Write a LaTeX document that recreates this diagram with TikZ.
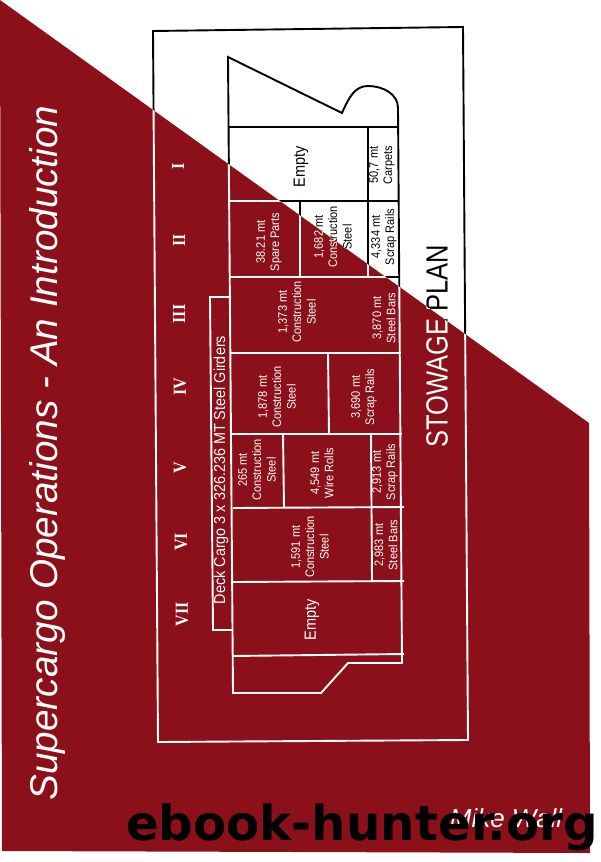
\documentclass[tikz,border=0pt]{standalone}
\usepackage{fontspec}
\setmainfont{Liberation Sans}
\newfontfamily\numfont{Liberation Serif}
\newfontfamily\markfont{DejaVu Sans}
\usepackage[svgnames,x11names]{xcolor}
\usetikzlibrary{positioning}
\definecolor{Cover}{HTML}{8C101A}

% one pass of the plan, in the ink given
\newcommand{\stowage}[1]{
	\begin{scope}[#1,every node/.append style={text=#1},every path/.append style={draw=#1}]
	\draw[hull] (153,31) -- (463,27) -- (468,740) -- (158,742) -- cycle;
	\draw[hull] (228,57) -- (342,113) .. controls (349,97) and (355,86) .. (368,86) .. controls (383,86) and (398,94) .. (398,108) -- (402,663) -- (348,663) -- (321,693) -- (233,693) -- cycle;
	\draw[hull] (229,127) -- (398,127);
	\draw[hull] (229,201) -- (399,201);
	\draw[hull] (230,277) -- (400,277);
	\draw[hull] (231,353) -- (401,353);
	\draw[hull] (232,434) -- (402,434);
	\draw[hull] (233,508) -- (404,507);
	\draw[hull] (232,582) -- (404,581);
	\draw[hull] (232,656) -- (404,654);
	\draw[hull] (368,127) -- (368,277);
	\draw[hull] (300,201) -- (300,277);
	\draw[hull] (328,353) -- (329,434);
	\draw[hull] (283,434) -- (284,508);
	\draw[hull] (371,434) -- (372,581);
	\draw[hull] (231,297) -- (210,297) -- (213,630) -- (232,630);
	\node[numeral] (rI) at (178,166) {I};
	\node[numeral] (rII) at (179,240) {II};
	\node[numeral] (rIII) at (179,314) {III};
	\node[numeral] (rIV) at (180,387) {IV};
	\node[numeral] (rV) at (180,468) {V};
	\node[numeral] (rVI) at (181,542) {VI};
	\node[numeral] (rVII) at (182,614) {VII};
	\node[cargo,font=\fontsize{14.5}{15}\selectfont] (e1) at (301,167) {Empty};
	\node[cargo] (c1) at (382,165) {50,7 mt\\Carpets};
	\node[cargo] (c2) at (269,242) {38.21 mt\\Spare Parts};
	\node[cargo] (c3) at (333,237) {1,682 mt\\Construction\\Steel};
	\node[cargo] (c4) at (384,237) {4,334 mt\\Scrap Rails};
	\node[cargo] (c5) at (297,312) {1,373 mt\\Construction\\Steel};
	\node[cargo] (c6) at (384,318) {3,870 mt\\Steel Bars};
	\node[cargo] (c7) at (277,397) {1,878 mt\\Construction\\Steel};
	\node[cargo] (c8) at (364,397) {3,690 mt\\Scrap Rails};
	\node[cargo] (c9) at (257,470) {265 mt\\Construction\\Steel};
	\node[cargo] (c10) at (322,473) {4,549 mt\\Wire Rolls};
	\node[cargo] (c11) at (385,472) {2,913 mt\\Scrap Rails};
	\node[cargo] (c12) at (310,547) {1,591 mt\\Construction\\Steel};
	\node[cargo] (c13) at (386,545) {2,983 mt\\Steel Bars};
	\node[cargo,font=\fontsize{14.5}{15}\selectfont] (e2) at (312,620) {Empty};
	\node[rotate=90,yscale=1.1,inner sep=0pt,font=\fontsize{14.4}{16}\selectfont] (deck) at (221,470) {Deck Cargo 3 x 326.236 MT Steel Girders};
	\node[rotate=90,yscale=1.2,inner sep=0pt,font=\fontsize{25.5}{27}\selectfont] (title) at (437,346) {STOWAGE PLAN};
	\end{scope}
}

\begin{document}
\begin{tikzpicture}[
	x=1pt,y=-1pt,
	hull/.style={line width=1.9pt},
	numeral/.style={
		rotate=90,
		yscale=1.15,
		inner sep=0pt,
		font=\numfont\bfseries\fontsize{16}{16}\selectfont
	},
	cargo/.style={
		rotate=90,
		yscale=1.12,
		align=center,
		inner sep=0pt,
		font=\fontsize{11}{12.8}\selectfont
	},
	]
	\useasboundingbox (0,0) rectangle (600,862);
	\fill[white] (0,0) rectangle (600,862);
	\stowage{black}
	\fill[Cover] (0,0) -- (589,423) -- (590,853) -- (2,851) -- cycle;
	\begin{scope}
		\clip (0,0) -- (589,423) -- (590,853) -- (2,851) -- cycle;
		\stowage{white}
	\end{scope}
	\node[rotate=90,text=white,inner sep=0pt,font=\itshape\fontsize{38.7}{40}\selectfont] (book) at (47,453) {Supercargo Operations - An Introduction};
	\node[anchor=base,text=white,inner sep=0pt,font=\itshape\fontsize{26}{28}\selectfont] (author) at (506,827) {Mike Wall};
	\node[anchor=base,text=black,inner sep=0pt,font=\markfont\bfseries\fontsize{48.3}{50}\selectfont] (mark) at (362,840) {ebook-hunter.org};
\end{tikzpicture}
\end{document}
